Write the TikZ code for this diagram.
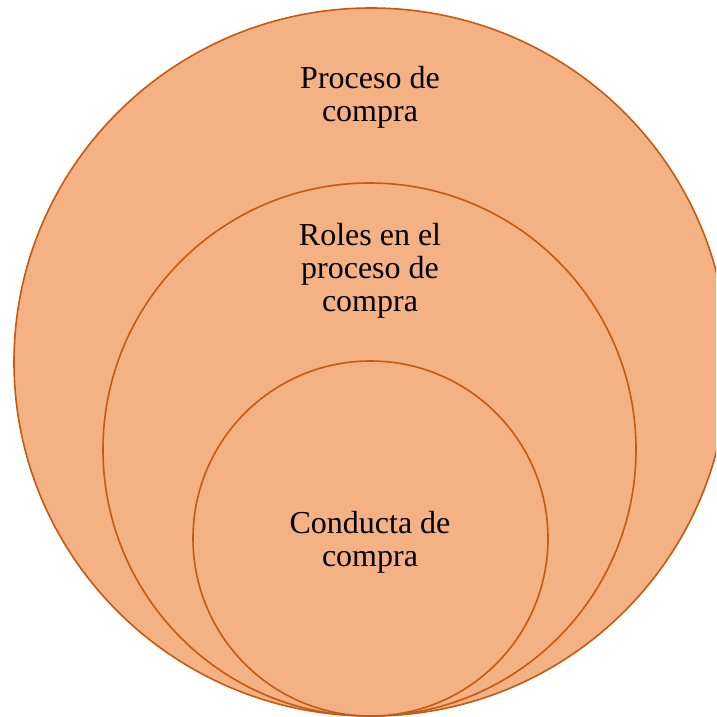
\documentclass[tikz,border=0pt]{standalone}
\usepackage{fontspec}
\usetikzlibrary{shapes.geometric}
\setmainfont{Liberation Serif}
\definecolor{ringfill}{HTML}{F4B183}
\definecolor{ringline}{HTML}{C55A11}
\tikzset{
  ring/.style={circle, draw=ringline, fill=ringfill, line width=1.6pt, inner sep=0pt},
  lbl/.style={align=center, font=\fontsize{32}{33}\selectfont, text=black, inner sep=0pt}
}
\begin{document}
\begin{tikzpicture}[x=1pt,y=-1pt]
\useasboundingbox (0,0) rectangle (716,717);
\clip (0,0) rectangle (716,717);
\node[ring, ellipse, minimum width=714pt, minimum height=708pt] (outer) at (371,362) {};
\node[ring, minimum size=533pt] (middle) at (369.5,449.5) {};
\node[ring, minimum size=355pt] (inner) at (370.5,538.5) {};
\node[lbl] (t1) at (370,97) {Proceso de\\compra};
\node[lbl] (t2) at (370,271) {Roles en el\\proceso de\\compra};
\node[lbl] (t3) at (370,542) {Conducta de\\compra};
\end{tikzpicture}
\end{document}
